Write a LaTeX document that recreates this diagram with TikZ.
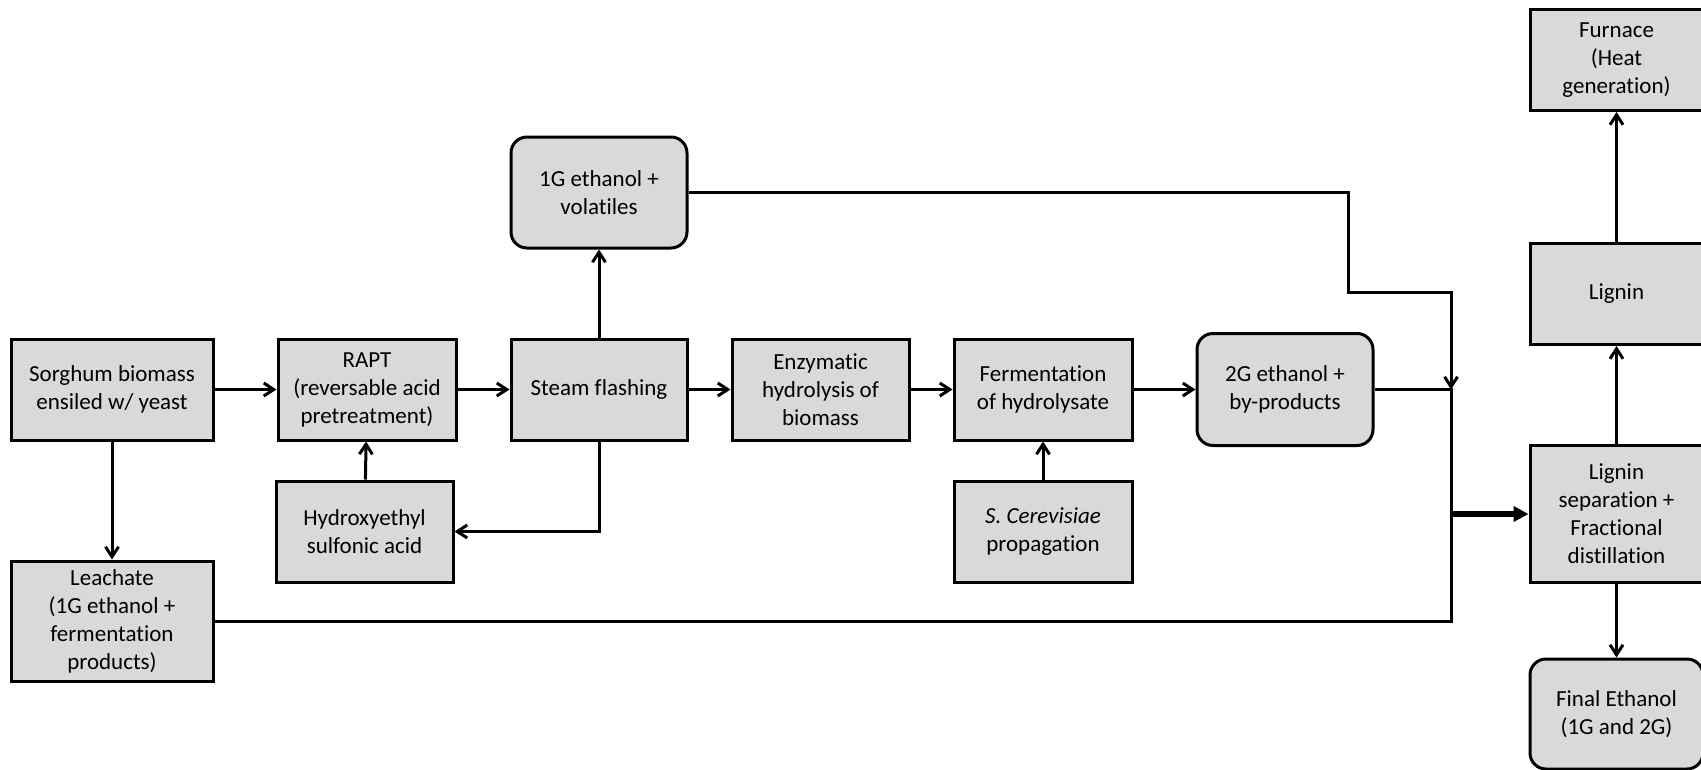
\documentclass[tikz,border=0pt]{standalone}
\usepackage{fontspec}
\setmainfont{Carlito}[Ligatures=NoCommon]
\usetikzlibrary{arrows.meta}
\begin{document}
\begin{tikzpicture}[x=1pt,y=-1pt,>={Straight Barb[length=10pt,width=13pt]},line width=3pt,
		font=\fontsize{23}{28}\selectfont,
		box/.style={draw,fill=black!15,align=center,inner sep=0pt,minimum height=101pt},
		rbox/.style={box,rounded corners=16pt},
		big/.style={-{Triangle[length=15pt,width=15pt]},line width=5.5pt}]
		\useasboundingbox (0,0) rectangle (1701,769);
		% Hàng chính
		\node[box,minimum width=202pt] (sorghum) at (112,389.5) {Sorghum biomass\\ensiled w/ yeast};
		\node[box,minimum width=178pt] (rapt) at (367,389.5) {RAPT\\(reversable acid\\pretreatment)};
		\node[box,minimum width=176pt] (steam) at (599,389.5) {Steam flashing};
		\node[box,minimum width=177pt] (enzym) at (820.5,389.5) {Enzymatic\\hydrolysis of\\biomass};
		\node[box,minimum width=178pt] (ferm) at (1043,389.5) {Fermentation\\of hydrolysate};
		\node[rbox,minimum width=176pt,minimum height=112pt] (eth2g) at (1285,389.5) {2G ethanol +\\by-products};
		\node[rbox,minimum width=176pt,minimum height=111pt] (eth1g) at (599,192.5) {1G ethanol +\\volatiles};
		\node[box,minimum width=177pt] (hydro) at (364.5,531.5) {Hydroxyethyl\\sulfonic acid};
		\node[box,minimum width=178pt] (yeast) at (1043,531.5) {\textit{S. Cerevisiae}\\propagation};
		\node[box,minimum width=202pt,minimum height=120pt] (leach) at (112,621) {Leachate\\(1G ethanol +\\fermentation\\products)};
		% Cột phải
		\node[box,minimum width=173pt,minimum height=137pt] (lsep) at (1616.5,514) {Lignin\\separation +\\Fractional\\distillation};
		\node[box,minimum width=173pt] (lignin) at (1616.5,294) {Lignin};
		\node[box,minimum width=173pt] (furnace) at (1616.5,60) {Furnace\\(Heat\\generation)};
		\node[rbox,minimum width=173pt,minimum height=110pt] (final) at (1616.5,714) {Final Ethanol\\(1G and 2G)};
		\coordinate (bend) at (1348,292);
		\coordinate (join) at (1451,389.5);
		\coordinate (merge) at (1451,514);
		\foreach \a/\b in {sorghum/rapt,rapt/steam,steam/enzym,enzym/ferm,ferm/eth2g,hydro/rapt,steam/eth1g,yeast/ferm,sorghum/leach,lsep/lignin,lignin/furnace,lsep/final}
		\draw[->] (\a) -- (\b);
		\draw[->] (steam.south) |- (hydro.east);
		\draw[->] (eth1g.east) -| (bend) -| (join);
		\draw (eth2g.east) -- (join) -- (merge);
		\draw (leach.east) -| (merge);
		\draw[big] (merge) -- (lsep.west);
\end{tikzpicture}
\end{document}
